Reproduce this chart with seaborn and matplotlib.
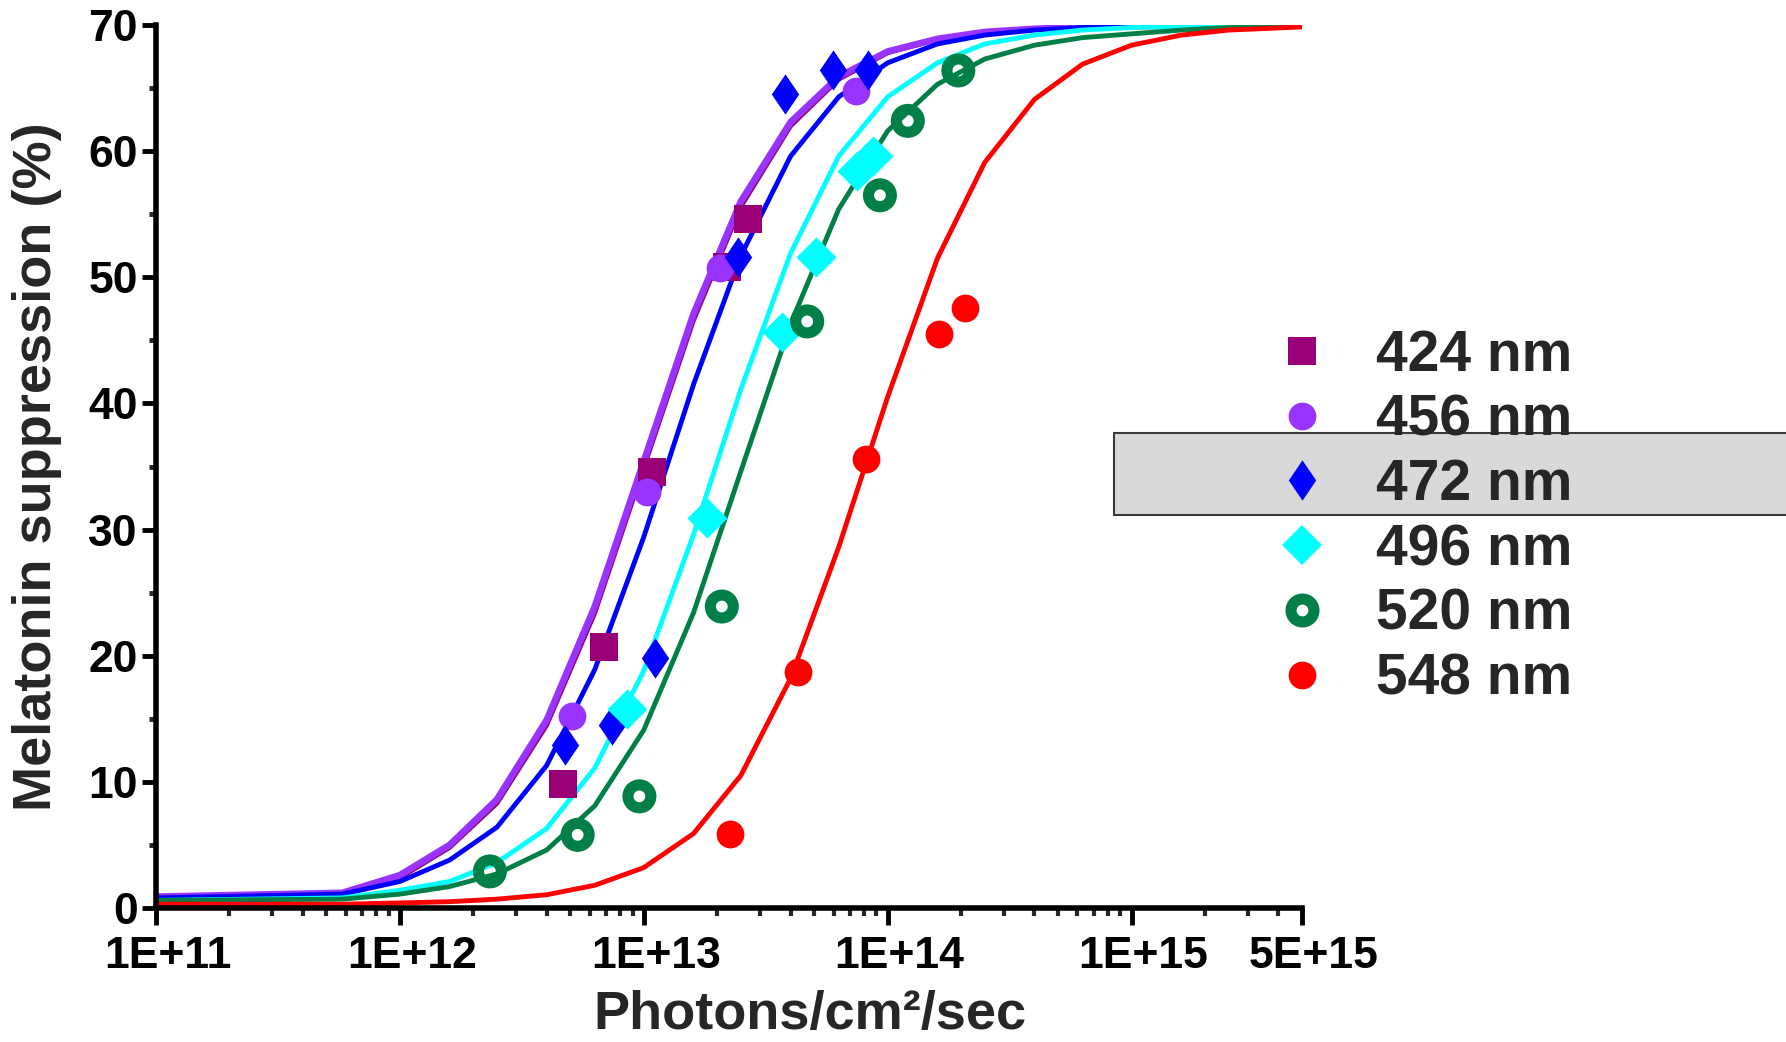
import matplotlib
matplotlib.use("Agg")
import numpy as np
import pandas as pd
import seaborn as sns
import matplotlib.pyplot as plt
import matplotlib.ticker as mticker
import matplotlib.transforms as mtransforms
from matplotlib.lines import Line2D
from matplotlib.patches import Rectangle
from matplotlib.path import Path

# ---------------------------------------------------------------- data
wavelengths = ["424 nm", "456 nm", "472 nm", "496 nm", "520 nm", "548 nm"]

# fitted dose-response curves (photons/cm2/sec vs % suppression)
curve_x = [1e11, 5.8e11, 1e12, 1.6e12, 2.5e12, 4e12, 6.3e12, 1e13, 1.6e13,
           2.5e13, 4e13, 6.3e13, 1e14, 1.6e14, 2.5e14, 4e14, 6.3e14, 1e15,
           1.6e15, 2.5e15, 5e15]
fit_424 = [0.6, 1.1, 2.4, 4.8, 8.3, 14.5, 23.4, 34.9, 46.6, 55.6, 62.0, 65.7,
           67.8, 68.85, 69.4, 69.7, 69.85, 69.9, 69.95, 70.0, 70.0]
fit_456 = [0.9, 1.2, 2.6, 5.0, 8.6, 14.9, 23.9, 35.4, 47.1, 56.0, 62.3, 65.9,
           67.9, 68.9, 69.45, 69.7, 69.85, 69.9, 69.95, 70.0, 70.0]
fit_472 = [0.8, 1.1, 2.1, 3.8, 6.4, 11.3, 18.9, 29.4, 41.5, 51.7, 59.6, 64.3,
           67.0, 68.5, 69.2, 69.6, 69.8, 69.9, 69.95, 70.0, 70.0]
fit_496 = [0.6, 0.8, 1.4, 2.1, 3.6, 6.3, 11.1, 18.8, 29.6, 41.1, 51.9, 59.6,
           64.3, 67.0, 68.5, 69.2, 69.6, 69.8, 69.9, 69.95, 70.0]
fit_520 = [0.6, 0.7, 1.1, 1.7, 2.7, 4.6, 8.1, 14.1, 23.4, 34.6, 46.3, 55.4,
           61.6, 65.3, 67.3, 68.4, 69.0, 69.3, 69.6, 69.8, 69.9]
fit_548 = [0.3, 0.3, 0.4, 0.5, 0.7, 1.05, 1.8, 3.2, 5.9, 10.5, 18.2, 28.6,
           40.5, 51.5, 59.1, 64.1, 66.9, 68.4, 69.2, 69.6, 69.85]

# measured points
x_424 = [4.65e12, 6.9e12, 1.08e13, 2.2e13, 2.68e13]
y_424 = [9.8, 20.7, 34.6, 50.8, 54.6]
x_456 = [5.1e12, 1.03e13, 2.05e13, 7.4e13]
y_456 = [15.2, 33.0, 50.7, 64.8]
x_472 = [4.77e12, 7.4e12, 1.11e13, 2.44e13, 3.8e13, 5.97e13, 8.3e13]
y_472 = [12.9, 14.5, 19.8, 51.6, 64.5, 66.4, 66.4]
x_496 = [8.5e12, 1.82e13, 3.68e13, 5.1e13, 7.5e13, 8.7e13]
y_496 = [15.8, 30.9, 45.7, 51.6, 58.4, 59.6]
x_520 = [2.34e12, 5.36e12, 9.6e12, 2.09e13, 4.68e13, 9.3e13, 1.21e14, 1.95e14]
y_520 = [2.9, 5.8, 8.85, 23.9, 46.5, 56.5, 62.4, 66.4]
x_548 = [2.26e13, 4.31e13, 8.15e13, 1.63e14, 2.07e14]
y_548 = [5.9, 18.7, 35.6, 45.5, 47.6]

x_ticks = [1e11, 1e12, 1e13, 1e14, 1e15, 5e15]
x_ticklabels = ["1E+11", "1E+12", "1E+13", "1E+14", "1E+15", "5E+15"]

# ---------------------------------------------------------------- style
sns.set_style("ticks")
plt.rcParams["font.family"] = ["Liberation Sans", "DejaVu Sans"]
plt.rcParams["font.weight"] = "bold"

colors = ["#990077", "#9933FF", "#0000FF", "#00FFFF", "#007F46", "#FF0000"]
thin_diamond = Path([(0, 1), (0.68, 0), (0, -1), (-0.68, 0), (0, 1)],
                    [Path.MOVETO, Path.LINETO, Path.LINETO, Path.LINETO,
                     Path.CLOSEPOLY])
markers = ["s", "o", thin_diamond, "D", "o", "o"]
sizes = [400, 400, 841, 415, 272, 400]
line_widths = [3.5, 4.8, 3.5, 3.5, 3.5, 3.5]

fits = [fit_424, fit_456, fit_472, fit_496, fit_520, fit_548]
points = [(x_424, y_424), (x_456, y_456), (x_472, y_472),
          (x_496, y_496), (x_520, y_520), (x_548, y_548)]

fig = plt.figure(figsize=(17.86, 10.42), dpi=100)
ax = fig.add_axes([0.0873, 0.1286, 0.6417, 0.8474])

# curves
for name, fit, col, lw in zip(wavelengths, fits, colors, line_widths):
    df = pd.DataFrame({"photons": curve_x, "suppression": fit})
    sns.lineplot(data=df, x="photons", y="suppression", color=col,
                 linewidth=lw, estimator=None, sort=False, ax=ax,
                 zorder=2, legend=False)

# measured points
for i, (name, (px, py)) in enumerate(zip(wavelengths, points)):
    df = pd.DataFrame({"photons": px, "suppression": py})
    if i == 4:
        sns.scatterplot(data=df, x="photons", y="suppression", marker="o",
                        s=sizes[i], facecolor="none", edgecolor=colors[i],
                        linewidth=8, ax=ax, zorder=3, legend=False)
    else:
        sns.scatterplot(data=df, x="photons", y="suppression",
                        marker=markers[i], s=sizes[i], color=colors[i],
                        edgecolor=colors[i], linewidth=0, ax=ax, zorder=3,
                        legend=False)

# ---------------------------------------------------------------- axes
ax.set_xscale("log")
ax.set_xlim(1e11, 5e15)
ax.set_ylim(0, 70)
ax.xaxis.set_major_locator(mticker.FixedLocator(x_ticks))
ax.xaxis.set_major_formatter(mticker.FixedFormatter(x_ticklabels))
ax.xaxis.set_minor_locator(mticker.LogLocator(base=10, subs=np.arange(2, 10),
                                              numticks=20))
ax.xaxis.set_minor_formatter(mticker.NullFormatter())
ax.yaxis.set_major_locator(mticker.MultipleLocator(10))
ax.yaxis.set_minor_locator(mticker.MultipleLocator(5))

for side in ["top", "right"]:
    ax.spines[side].set_visible(False)
for side in ["left", "bottom"]:
    ax.spines[side].set_linewidth(4)
    ax.spines[side].set_color("black")
ax.patch.set_visible(False)

ax.tick_params(axis="both", which="major", direction="out", width=3.5,
               color="black", labelsize=32, labelcolor="black")
ax.tick_params(axis="y", which="major", length=10, pad=3)
ax.tick_params(axis="x", which="major", length=12, pad=8)
ax.tick_params(axis="y", which="minor", length=5, width=3.5)
ax.tick_params(axis="x", which="minor", length=6, width=3.0)
for lbl in ax.get_xticklabels() + ax.get_yticklabels():
    lbl.set_fontweight("bold")

shift = mtransforms.ScaledTranslation(0.12, 0, fig.dpi_scale_trans)
for lbl in ax.get_xticklabels():
    lbl.set_transform(lbl.get_transform() + shift)

ax.set_xlabel("Photons/cm²/sec", fontsize=39, fontweight="bold", va="top")
ax.xaxis.set_label_coords(0.571, -0.093)
ax.set_ylabel("Melatonin suppression (%)", fontsize=39, fontweight="bold")
ax.yaxis.set_label_coords(-0.082, 0.5)

# highlighted legend row
ax.add_patch(Rectangle((0.6237, 0.5058), 0.40, 0.0787,
                       transform=fig.transFigure, facecolor="#D9D9D9",
                       edgecolor="#3a3a3a", linewidth=1.5, clip_on=False,
                       zorder=0.5))

handles = []
for i, name in enumerate(wavelengths):
    if i == 4:
        h = Line2D([], [], marker="o", linestyle="none",
                   markersize=np.sqrt(sizes[i]), markerfacecolor="none",
                   markeredgecolor=colors[i], markeredgewidth=8)
    else:
        h = Line2D([], [], marker=markers[i], linestyle="none",
                   markersize=np.sqrt(sizes[i]), markerfacecolor=colors[i],
                   markeredgecolor=colors[i], markeredgewidth=0)
    handles.append(h)

leg = ax.legend(handles, wavelengths, loc="center left",
                bbox_to_anchor=(0.975, 0.442), frameon=False,
                prop={"size": 41, "weight": "bold"}, handlelength=1.0,
                handletextpad=0.8, labelspacing=0.19, borderpad=0,
                borderaxespad=0)
leg.set_zorder(5)

fig.savefig("out.png", dpi=100, facecolor="white")
